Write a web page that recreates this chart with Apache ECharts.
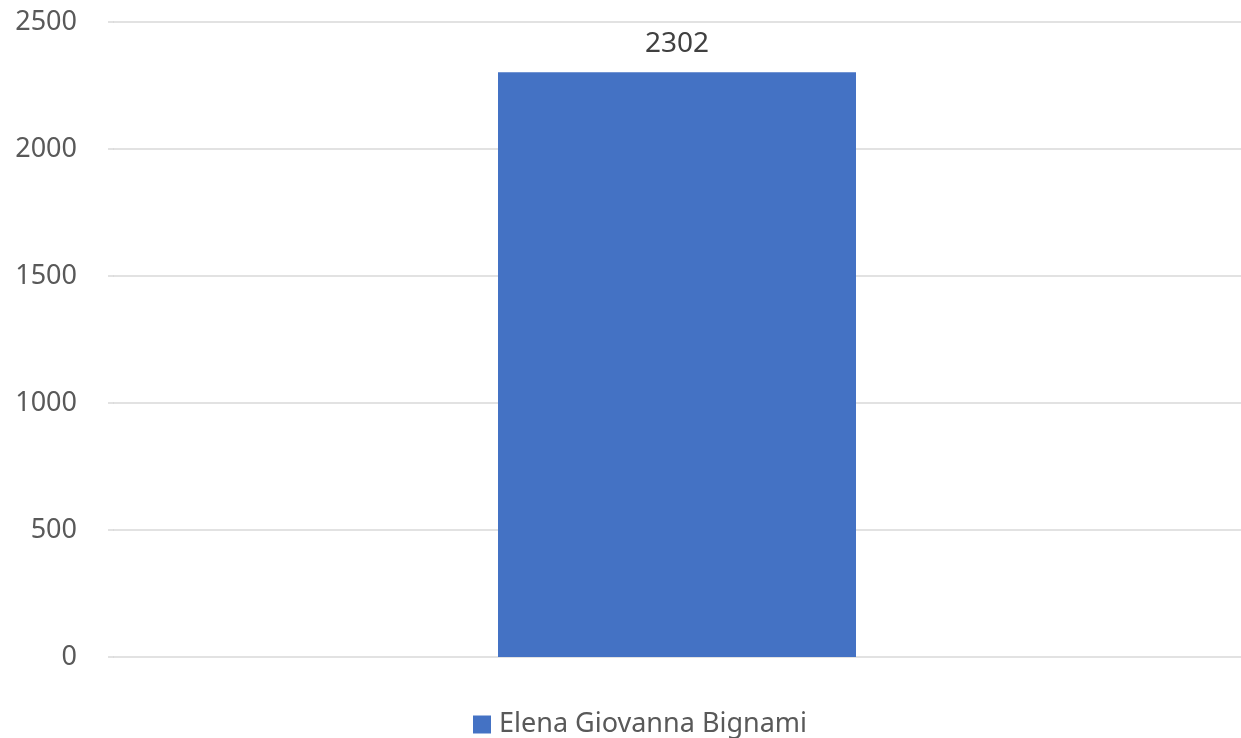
<!DOCTYPE html>
<html>
<head>
<meta charset="utf-8">
<script src="https://cdn.jsdelivr.net/npm/echarts@6/dist/echarts.min.js"></script>
<style>
html,body{margin:0;padding:0;background:#fff;}
#chart{width:1241px;height:738px;}
</style>
</head>
<body>
<div id="chart"></div>
<script>
const categories = ['Elena Giovanna Bignami'];
const seriesName = 'Elena Giovanna Bignami';
const values = [2302];
const yTicks = [0, 500, 1000, 1500, 2000, 2500];

const chart = echarts.init(document.getElementById('chart'));
chart.setOption({
  animation: false,
  textStyle: { fontFamily: 'Noto Sans' },
  grid: { left: 113, right: 0, top: 22, bottom: 81, containLabel: false },
  legend: {
    data: [seriesName],
    top: 706,
    left: 468,
    icon: 'rect',
    itemWidth: 18,
    itemHeight: 18,
    textStyle: { fontSize: 27, color: '#595959', fontFamily: 'Noto Sans', padding: [0,0,0,3] }
  },
  xAxis: {
    type: 'category',
    data: categories,
    axisLine: { show: false },
    axisTick: { show: false },
    axisLabel: { show: false }
  },
  yAxis: {
    type: 'value',
    min: yTicks[0],
    max: yTicks[yTicks.length - 1],
    interval: 500,
    axisLine: { show: false },
    axisTick: { show: false },
    splitLine: { lineStyle: { color: '#d9d9d9', width: 1.5 } },
    axisLabel: { fontSize: 27, color: '#595959', margin: 36, fontFamily: 'Noto Sans', formatter: function (v) { return String(v); } }
  },
  graphic: [],
  series: [{
    name: seriesName,
    type: 'bar',
    data: values,
    barWidth: 358,
    itemStyle: { color: '#4472C4' },
    label: {
      show: true,
      position: 'top',
      distance: 14,
      fontSize: 28,
      color: '#404040',
      fontFamily: 'Noto Sans'
    }
  }]
});
// extend split lines visually to start at x=108 like the reference
const gridModel = chart.getModel().getComponent('grid');
const rect = gridModel.coordinateSystem.getRect();
chart.setOption({
  graphic: yTicks.map(function (t) {
    const y = chart.convertToPixel({ yAxisIndex: 0 }, t);
    return { type: 'line', silent: true, shape: { x1: 108, y1: y, x2: rect.x + 1, y2: y }, style: { stroke: '#d9d9d9', lineWidth: 1.5 } };
  })
});
</script>
</body>
</html>
